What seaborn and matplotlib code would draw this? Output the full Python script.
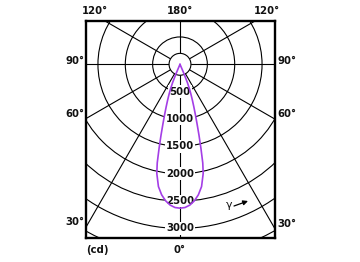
import numpy as np
import pandas as pd
import matplotlib
matplotlib.use("Agg")
import matplotlib.pyplot as plt
import seaborn as sns
from matplotlib.patches import Circle

# ---- data (gamma angle in degrees, intensity in cd) ----
gamma_deg = [0, 2, 4, 6, 8, 10, 12, 13, 14, 15, 16, 17, 18, 19, 20, 21, 22, 23, 24]
intensity_cd = [2630, 2620, 2580, 2510, 2410, 2270, 2040, 1850, 1580, 1340, 1130,
                960, 820, 700, 590, 490, 360, 180, 0]
ring_values = [500, 1000, 1500, 2000, 2500, 3000, 3500]
ring_labels = ["500", "1000", "1500", "2000", "2500", "3000"]
spoke_angles = [0, 30, 60, 90, 120, 180, -30, -60, -90, -120]
left_angle_labels = ["120°", "90°", "60°", "30°"]
right_angle_labels = ["120°", "90°", "60°", "30°"]

sns.set_style("white")
plt.rcParams["font.family"] = ["DejaVu Sans"]

fig = plt.figure(figsize=(3.6, 2.62), dpi=100)
ax = fig.add_axes([86 / 360, 1 - 238 / 262, (275 - 86) / 360, (238 - 21) / 262])

scale = 54.7 / 1000.0  # px per cd
def px2x(px):
    return (px - 180) / scale
def py2y(py):
    return -(py - 64.3) / scale

xmin, xmax = px2x(86), px2x(275)
ymin, ymax = py2y(238), py2y(21)

# rings
for r in ring_values:
    c = Circle((0, 0), r, fill=False, ec="black", lw=0.8, zorder=1)
    ax.add_patch(c)

# spokes
r_in, r_out = 200, 5000
for a in spoke_angles:
    t = np.deg2rad(a)
    ax.plot([r_in * np.sin(t), r_out * np.sin(t)], [-r_in * np.cos(t), -r_out * np.cos(t)],
            color="black", lw=0.8, zorder=1)

# inner hole
ax.add_patch(Circle((0, 0), 200, fc="white", ec="black", lw=0.8, zorder=2))

# ring labels
for r, lab in zip(ring_values, ring_labels):
    ax.text(0, -r, lab, ha="center", va="center", fontsize=7.3, fontweight="bold",
            color="#111111", zorder=4,
            bbox=dict(boxstyle="square,pad=0.12", fc="white", ec="none"))

# curve (mirrored)
g = np.array(gamma_deg, dtype=float)
I = np.array(intensity_cd, dtype=float)
ang = np.concatenate([-g[::-1], g[1:]])
val = np.concatenate([I[::-1], I[1:]])
t = np.deg2rad(ang)
df = pd.DataFrame({"x": val * np.sin(t), "y": -val * np.cos(t), "o": np.arange(len(t))})
sns.lineplot(data=df, x="x", y="y", sort=False, estimator=None, color="#a43ee6",
             lw=1.2, ax=ax, zorder=6)

ax.set_xlim(xmin, xmax)
ax.set_ylim(ymin, ymax)
ax.set_xlabel("")
ax.set_ylabel("")
ax.set_xticks([])
ax.set_yticks([])
for s in ax.spines.values():
    s.set_linewidth(1.7)
    s.set_color("black")
    s.set_zorder(7)

fs = 7.3
kw = dict(fontsize=fs, fontweight="bold", color="#111111", clip_on=False)
ax.text(px2x(95), py2y(11), "120°", ha="center", va="center", **kw)
ax.text(px2x(180), py2y(11), "180°", ha="center", va="center", **kw)
ax.text(px2x(267), py2y(11), "120°", ha="center", va="center", **kw)
for lab, yy in zip(left_angle_labels[1:], [61.5, 114, 222]):
    ax.text(px2x(84), py2y(yy), lab, ha="right", va="center", **kw)
for lab, yy in zip(right_angle_labels[1:], [61.5, 114, 224]):
    ax.text(px2x(277), py2y(yy), lab, ha="left", va="center", **kw)
ax.text(px2x(86), py2y(250), "(cd)", ha="left", va="center", **kw)
ax.text(px2x(180), py2y(250), "0°", ha="center", va="center", **kw)
ax.text(px2x(229), py2y(205), "γ", ha="center", va="center", fontsize=fs + 0.5, color="#111111")
ax.annotate("", xy=(px2x(248), py2y(201)), xytext=(px2x(234), py2y(206)),
            arrowprops=dict(arrowstyle="-|>", color="black", lw=0.9,
                            mutation_scale=7, shrinkA=0, shrinkB=0))

fig.savefig("out.png", dpi=100)
